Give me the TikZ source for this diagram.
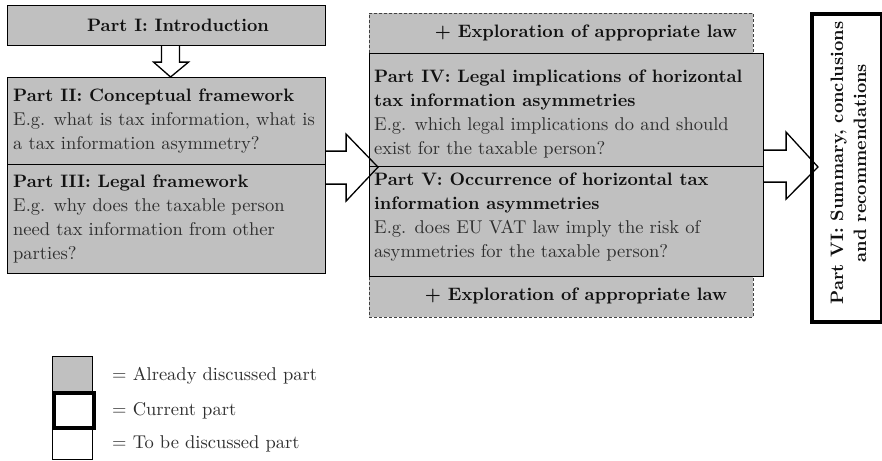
\documentclass[tikz,border=0pt]{standalone}
\usepackage{fontspec}
\setmainfont{lmroman10}[Extension=.otf, UprightFont=*-regular, BoldFont=*-bold, ItalicFont=*-italic, BoldItalicFont=*-bolditalic]
\usetikzlibrary{calc}
\definecolor{boxgray}{HTML}{C0C0C0}
\definecolor{bodytext}{HTML}{2E2E2E}
\definecolor{titleblack}{HTML}{111111}
\newcommand\parttitle[1]{\textcolor{titleblack}{\fontsize{18}{24}\selectfont\bfseries #1}}
\begin{document}
\begin{tikzpicture}[x=1pt,y=-1pt,
  box/.style={draw=black, line width=1.1pt, fill=boxgray, inner sep=0pt, anchor=north west},
  dbox/.style={draw=black!75, dashed, dash pattern=on 3pt off 2pt, line width=0.8pt, fill=boxgray, inner sep=0pt, anchor=north west},
  body/.style={align=left, anchor=west, inner sep=0pt, text=bodytext, font=\fontsize{18.5}{24}\selectfont},
  title/.style={inner sep=0pt, text=titleblack, font=\fontsize{18}{24}\selectfont\bfseries},
  blockarrow/.style={draw=black, line width=1.3pt, fill=white, line join=miter},
  legtext/.style={anchor=west, inner sep=0pt, text=bodytext, font=\fontsize{18.5}{24}\selectfont}
]
\useasboundingbox (0,0) rectangle (882,460);

% left column
\node[box, minimum width=318pt, minimum height=40pt] (p1) at (7,5) {};
\node[title] (p1t) at (178,25) {Part I: Introduction};
\node[box, minimum width=318pt, minimum height=87pt] (p2) at (7,77) {};
\node[box, minimum width=318pt, minimum height=109pt] (p3) at (7,164) {};
\node[body] (p2t) at ($(p2.west)+(6,0)$) {\parttitle{Part II: Conceptual framework}\\E.g. what is tax information, what is\\a tax information asymmetry?};
\node[body] (p3t) at ($(p3.west)+(6,0)$) {\parttitle{Part III: Legal framework}\\E.g. why does the taxable person\\need tax information from other\\parties?};

% middle column
\node[dbox, minimum width=384pt, minimum height=40pt] (e1) at (369,13) {};
\node[dbox, minimum width=384pt, minimum height=41pt] (e2) at (369,276) {};
\node[box, minimum width=394pt, minimum height=113pt] (p4) at (369,53) {};
\node[box, minimum width=394pt, minimum height=110pt] (p5) at (369,166) {};
\node[title] (e1t) at (586,33) {+ Exploration of appropriate law};
\node[title] (e2t) at (576,296) {+ Exploration of appropriate law};
\node[body] (p4t) at ($(p4.west)+(5,4)$) {\parttitle{Part IV: Legal implications of horizontal}\\\parttitle{tax information asymmetries}\\E.g. which legal implications do and should\\exist for the taxable person?};
\node[body] (p5t) at ($(p5.west)+(5,-4)$) {\parttitle{Part V: Occurrence of horizontal tax}\\\parttitle{information asymmetries}\\E.g. does EU VAT law imply the risk of\\asymmetries for the taxable person?};

% right column
\node[draw=black, line width=4pt, fill=white, inner sep=0pt, anchor=north west, minimum width=70pt, minimum height=308pt] (p6) at (810,12) {};
\node[title, rotate=90, align=center, font=\fontsize{18}{23}\selectfont\bfseries] (p6t) at (848.5,163) {Part VI: Summary, conclusions\\and recommendations};

% block arrows
\draw[blockarrow] ($(p1.south)+(-5,0)$) -- ++(0,16) -- ++(-8,0) -- ($(p2.north)+(4,0)$) -- ($(p1.south)+(22,16)$) -- ++(-9,0) -- ($(p1.south)+(13,0)$);
\draw[blockarrow, fill=none] ($(p2.south east)+(0,-14)$) -- ++(20,0) -- ++(0,-17) -- ($(p4.south west)+(9,0)$) -- ($(p2.south east)+(20,36)$) -- ++(0,-17) -- ($(p2.south east)+(0,19)$);
\draw[blockarrow, fill=none] ($(p4.south east)+(0,-17)$) -- ++(22,0) -- ++(0,-18) -- ($(p6.west)+(8,-1)$) -- ($(p4.south east)+(22,32)$) -- ++(0,-17) -- ($(p4.south east)+(0,15)$);

% legend
\node[box, minimum width=40pt, minimum height=36pt] (l1) at (52,356) {};
\node[box, fill=white, minimum width=40pt, minimum height=32pt] (l3) at (52,427) {};
\node[draw=black, line width=4pt, fill=white, inner sep=0pt, anchor=north west, minimum width=40pt, minimum height=35pt] (l2) at (52,391) {};
\node[legtext] (l1t) at (112,376) {= Already discussed part};
\node[legtext] (l2t) at (112,411) {= Current part};
\node[legtext] (l3t) at (112,444) {= To be discussed part};
\end{tikzpicture}
\end{document}
